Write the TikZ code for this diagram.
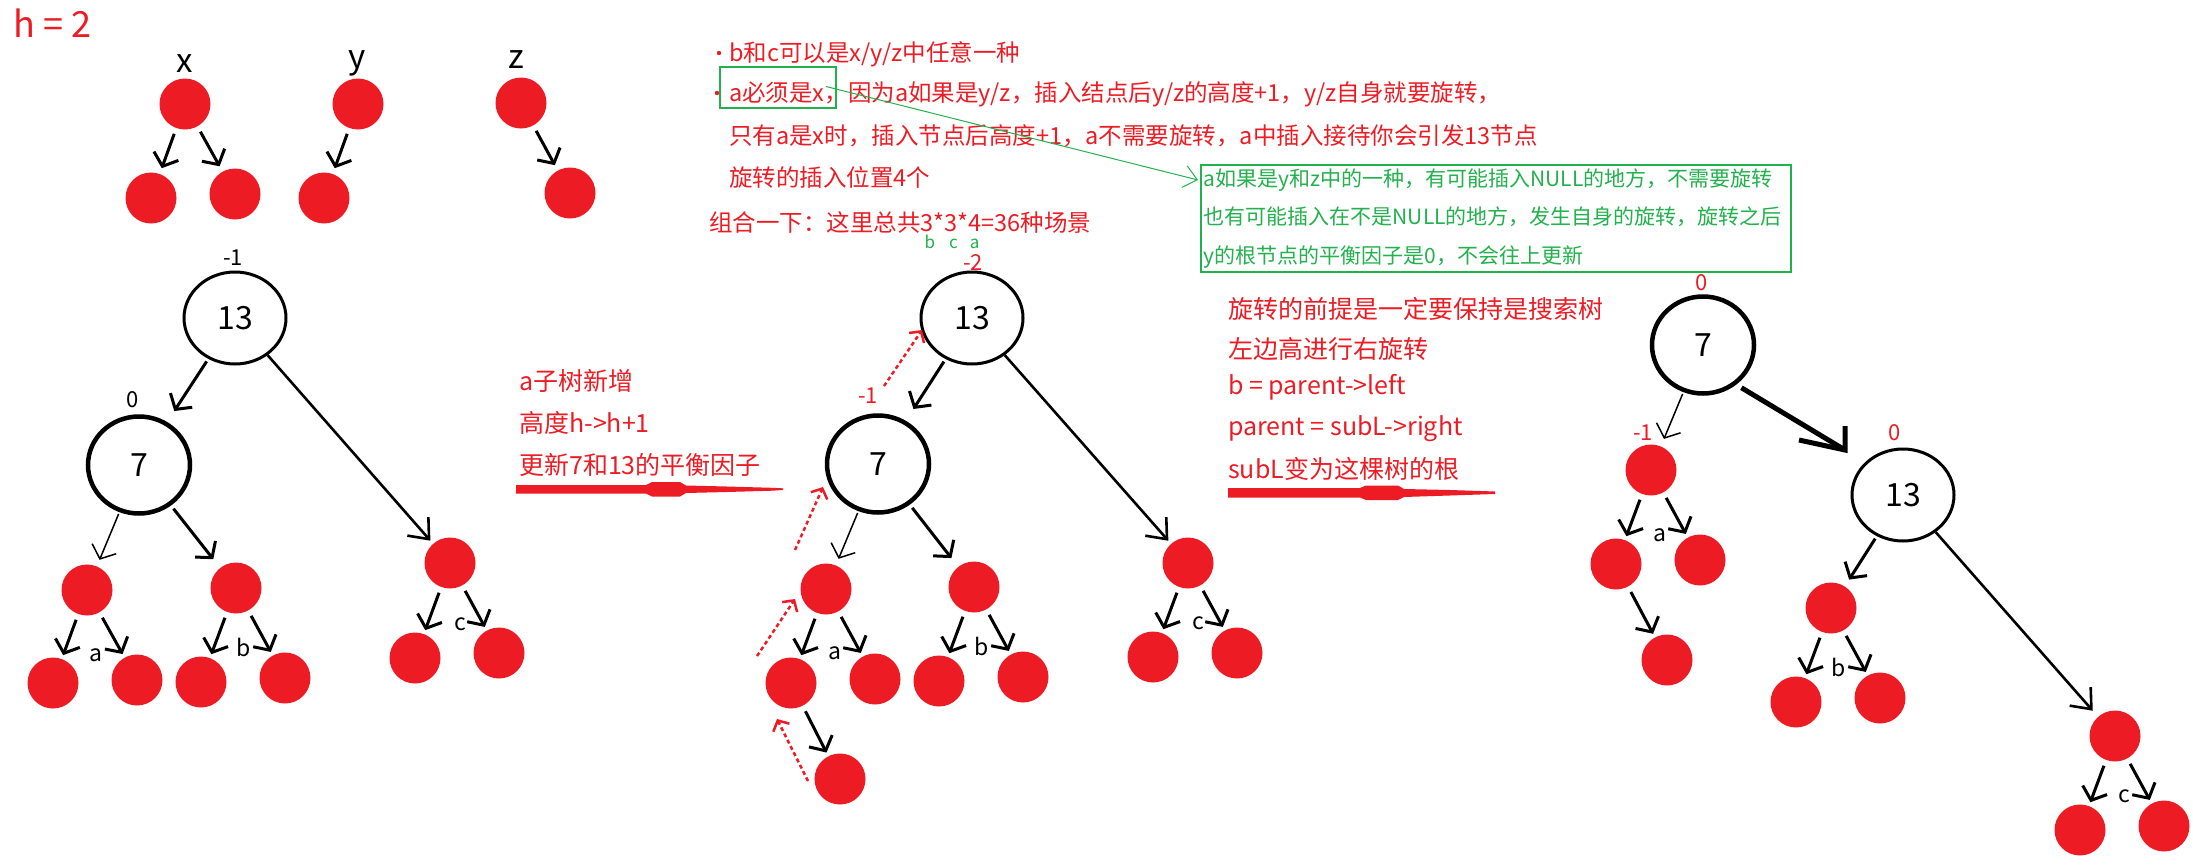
\documentclass[tikz,border=0pt]{standalone}
\usepackage{fontspec}
\newfontfamily\cjk{Noto Sans CJK SC}
\usetikzlibrary{arrows.meta,shapes.geometric}
\definecolor{pred}{HTML}{ED1C24}
\definecolor{pgreen}{HTML}{22B14C}

\begin{document}
\begin{tikzpicture}[x=1pt, y=-1pt,
  ball/.style={circle, fill=pred, minimum size=51pt, inner sep=0pt},
  key/.style={ellipse, draw, line width=3pt, minimum width=102pt, minimum height=92pt, inner sep=0pt, font=\cjk\fontsize{32}{36}\selectfont},
  keybold/.style={key, line width=4.5pt, minimum height=97pt},
  bf/.style={inner sep=0pt, font=\cjk\fontsize{22}{26}\selectfont},
  lbl/.style={inner sep=0pt, font=\cjk\fontsize{23}{26}\selectfont},
  note/.style={anchor=base west, inner sep=0pt, text=pred},
  topnote/.style={note, font=\cjk\fontsize{23.5}{28}\selectfont},
  midnote/.style={note, font=\cjk\fontsize{25}{30}\selectfont},
  arrow/.style={-{Straight Barb[length=11pt,width=26pt]}, line width=3pt, shorten <=6pt, shorten >=4pt},
  long/.style={-{Straight Barb[length=17pt,width=28pt]}, line width=2.6pt},
  dotarrow/.style={-{Straight Barb[length=8pt,width=18pt]}, draw=pred, line width=2.5pt, dash pattern=on 4pt off 3pt}
]
\path[use as bounding box] (0,0) rectangle (2193,865);

% Draw height and the three shapes
\node[note, font=\cjk\fontsize{36}{40}\selectfont] (hh) at (13,37) {h = 2};
\node[anchor=base, inner sep=0pt, font=\cjk\fontsize{33}{36}\selectfont] (lx) at (185,72) {x};
\node[anchor=base, inner sep=0pt, font=\cjk\fontsize{33}{36}\selectfont] (ly) at (357,68) {y};
\node[anchor=base, inner sep=0pt, font=\cjk\fontsize{33}{36}\selectfont] (lz) at (516,68) {z};
\node[ball] (tx) at (185,104) {};
\node[ball] (txl) at (151,198) {};
\node[ball] (txr) at (235,194) {};
\node[ball] (ty) at (358,104) {};
\node[ball] (tyl) at (324,198) {};
\node[ball] (tz) at (521,103) {};
\node[ball] (tzr) at (570,193) {};
\draw[arrow, shorten >=6pt] (tx) -- (txl);
\draw[arrow, shorten >=6pt] (tx) -- (txr);
\draw[arrow, shorten >=6pt] (ty) -- (tyl);
\draw[arrow, shorten >=6pt] (tz) -- (tzr);

% Draw left tree
\node[bf] (lbf13) at (233,258) {-1};
\node[key] (l13) at (235,318) {13};
\node[bf] (lbf7) at (133,400) {0};
\node[keybold] (l7) at (139,465) {7};
\node[ball] (la) at (87,590) {};
\node[ball] (lb) at (236,588) {};
\node[ball] (lc) at (450,563) {};
\node[ball] (lal) at (53,683) {};
\node[ball] (lar) at (137,680) {};
\node[ball] (lbl) at (201,682) {};
\node[ball] (lbr) at (285,678) {};
\node[ball] (lcl) at (415,658) {};
\node[ball] (lcr) at (499,653) {};
\node[lbl] (lla) at (96,655) {a};
\node[lbl] (llb) at (244,647) {b};
\node[lbl] (llc) at (460,624) {c};
\draw[arrow, shorten <=3pt, shorten >=13pt] (l13) -- (l7);
\draw[long, shorten >=4pt] (l13) -- (lc);
\draw[arrow, line width=1.5pt, shorten <=2pt, shorten >=7pt] (l7) -- (la);
\draw[arrow, shorten <=4pt, shorten >=11pt] (l7) -- (lb);
\draw[arrow] (la) -- (lal);
\draw[arrow] (la) -- (lar);
\draw[arrow] (lb) -- (lbl);
\draw[arrow] (lb) -- (lbr);
\draw[arrow] (lc) -- (lcl);
\draw[arrow] (lc) -- (lcr);

% Insertion note and arrow
\node[midnote] (ins1) at (519,390) {a子树新增};
\node[midnote] (ins2) at (519,432) {高度h->h+1};
\node[midnote] (ins3) at (519,474) {更新7和13的平衡因子};
\fill[pred] (516,485) -- (646,485) -- (652,482) -- (680,482) -- (686,485.5) -- (727,486.5) -- (772,487.8) -- (783,488.3)
  -- (783,490) -- (772,490.7) -- (727,492) -- (686,493) -- (680,496.5) -- (652,496.5) -- (646,493.5) -- (516,493.5) -- cycle;

% Top notes
\fill[pred] (719,53) circle (2.2);
\fill[pred] (717,93) circle (2.2);
\node[topnote] (n1) at (729,61) {b和c可以是x/y/z中任意一种};
\node[topnote] (n2) at (729,101) {a必须是x，因为a如果是y/z，插入结点后y/z的高度+1，y/z自身就要旋转，};
\node[topnote] (n3) at (729,144) {只有a是x时，插入节点后高度+1，a不需要旋转，a中插入接待你会引发13节点};
\node[topnote] (n4) at (729,186) {旋转的插入位置4个};
\node[topnote] (n5) at (709,231) {组合一下：这里总共3*3*4=36种场景};
\node[draw=pgreen, line width=2.5pt, minimum width=116pt, minimum height=41pt, inner sep=0pt] (gbox) at (778,87.5) {};
\node[draw=pgreen, line width=1.5pt, anchor=north west, minimum width=590pt, minimum height=107pt, inner xsep=3pt, inner ysep=0pt,
  text width=584pt, align=left, text=pgreen, font=\cjk\fontsize{21}{38.5}\selectfont] (gnote) at (1200,164)
  {a如果是y和z中的一种，有可能插入NULL的地方，不需要旋转\\也有可能插入在不是NULL的地方，发生自身的旋转，旋转之后\\y的根节点的平衡因子是0，不会往上更新};
\draw[pgreen, line width=1pt, -{Straight Barb[length=13pt,width=22pt]}] ([shift={(48,-1)}]gbox.center) -- ([shift={(-2,16)}]gnote.north west);

% Draw middle tree
\node[anchor=base, inner sep=0pt, text=pgreen, font=\cjk\fontsize{17}{20}\selectfont] (mbca) at (952,248) {b\hspace{14pt}c\hspace{12pt}a};
\node[bf, text=pred] (mbf13) at (973,263) {-2};
\node[key] (m13) at (972,318) {13};
\node[bf, text=pred] (mbf7) at (868,396) {-1};
\node[keybold] (m7) at (878,464) {7};
\node[ball] (ma) at (826,589) {};
\node[ball] (mb) at (974,587) {};
\node[ball] (mc) at (1188,563) {};
\node[ball] (mal) at (791,683) {};
\node[ball] (mar) at (875,679) {};
\node[ball] (mbl) at (939,681) {};
\node[ball] (mbr) at (1023,677) {};
\node[ball] (mcl) at (1153,657) {};
\node[ball] (mcr) at (1237,653) {};
\node[ball] (mall) at (840,779) {};
\node[lbl] (mla) at (835,653) {a};
\node[lbl] (mlb) at (982,646) {b};
\node[lbl] (mlc) at (1198,623) {c};
\draw[arrow, shorten <=3pt, shorten >=14pt] (m13) -- (m7);
\draw[long, shorten >=4pt] (m13) -- (mc);
\draw[arrow, line width=1.5pt, shorten <=2pt, shorten >=7pt] (m7) -- (ma);
\draw[arrow, shorten <=4pt, shorten >=11pt] (m7) -- (mb);
\draw[arrow] (ma) -- (mal);
\draw[arrow] (ma) -- (mar);
\draw[arrow] (mb) -- (mbl);
\draw[arrow] (mb) -- (mbr);
\draw[arrow] (mc) -- (mcl);
\draw[arrow] (mc) -- (mcr);
\draw[arrow] (mal) -- (mall);
% update path
\draw[dotarrow] ([shift={(-32,2)}]mall.center) -- ([shift={(-14,36)}]mal.center);
\draw[dotarrow] ([shift={(-34,-27)}]mal.center) -- ([shift={(-31,10)}]ma.center);
\draw[dotarrow] ([shift={(-31,-39)}]ma.center) -- ([shift={(-55,23)}]m7.center);
\draw[dotarrow] ([shift={(6,-78)}]m7.center) -- ([shift={(-50,12)}]m13.center);

% Rotation note and arrow
\node[midnote] (rot1) at (1228,318) {旋转的前提是一定要保持是搜索树};
\node[midnote] (rot2) at (1228,358) {左边高进行右旋转};
\node[midnote] (rot3) at (1228,394) {b = parent->left};
\node[midnote] (rot4) at (1228,435) {parent = subL->right};
\node[midnote] (rot5) at (1228,478) {subL变为这棵树的根};
\fill[pred] (1228,488) -- (1360,488) -- (1366,485.5) -- (1398,485.5) -- (1404,489) -- (1450,490) -- (1495,491.5)
  -- (1495,494) -- (1450,495.5) -- (1404,497) -- (1398,500) -- (1366,500) -- (1360,497.5) -- (1228,497.5) -- cycle;

% Draw right tree
\node[bf, text=pred] (rbf7) at (1702,283) {0};
\node[keybold] (r7) at (1703,345) {7};
\node[bf, text=pred] (rbfa) at (1643,433) {-1};
\node[ball] (ra) at (1651,470) {};
\node[ball] (ral) at (1616,564) {};
\node[ball] (rar) at (1700,560) {};
\node[ball] (rall) at (1667,660) {};
\node[lbl] (rla) at (1660,535) {a};
\node[bf, text=pred] (rbf13) at (1895,433) {0};
\node[key] (r13) at (1903,495) {13};
\node[ball] (rb) at (1831,608) {};
\node[ball] (rbl) at (1796,702) {};
\node[ball] (rbr) at (1880,698) {};
\node[lbl] (rlb) at (1839,667) {b};
\node[ball] (rc) at (2115,736) {};
\node[ball] (rcl) at (2080,830) {};
\node[ball] (rcr) at (2164,826) {};
\node[lbl] (rlc) at (2124,796) {c};
\coordinate (rtip) at (1845,450);
\draw[line width=5pt, shorten <=6pt] (r7.-50) -- (rtip);
\draw[line width=5pt] ([shift={(-46,-10)}]rtip) -- (rtip) -- ([shift={(0,-24)}]rtip);
\draw[arrow, line width=1.5pt, shorten <=2pt, shorten >=8pt] (r7) -- (ra);
\draw[arrow] (ra) -- (ral);
\draw[arrow] (ra) -- (rar);
\draw[arrow] (ral) -- (rall);
\draw[arrow, shorten <=3pt, shorten >=8pt] (r13) -- (rb);
\draw[long, shorten >=8pt] (r13) -- (rc);
\draw[arrow] (rb) -- (rbl);
\draw[arrow] (rb) -- (rbr);
\draw[arrow] (rc) -- (rcl);
\draw[arrow] (rc) -- (rcr);
\end{tikzpicture}
\end{document}
